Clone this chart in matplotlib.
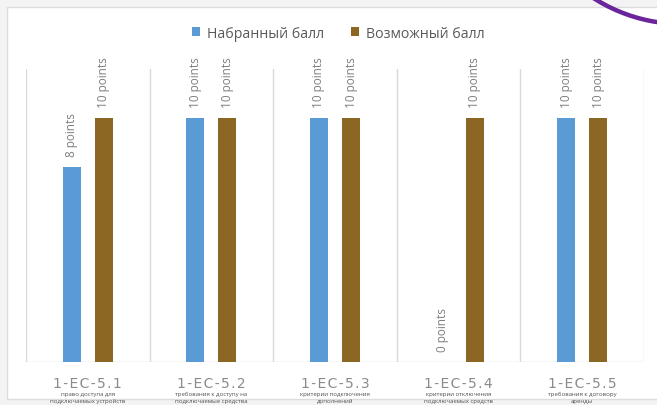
import matplotlib
matplotlib.use("Agg")
import matplotlib.pyplot as plt
import numpy as np
from matplotlib.patches import Rectangle, Circle

plt.rcParams['font.family'] = ['Open Sans', 'DejaVu Sans']

categories = ["1-EC-5.1", "1-EC-5.2", "1-EC-5.3", "1-EC-5.4", "1-EC-5.5"]
subtitles = [
    ("право доступа для", "подключаемых устройств"),
    ("требования к доступу на", "подключаемые средства"),
    ("критерии подключения", "дополнений"),
    ("критерии отключения", "подключаемых средств"),
    ("требования к договору", "аренды"),
]
scored = [8, 10, 10, 0, 10]
possible = [10, 10, 10, 10, 10]
series_names = ["Набранный балл", "Возможный балл"]

W, H = 657, 406
fig = plt.figure(figsize=(W / 100, H / 100), dpi=100)
fig.patch.set_facecolor("#f3f3f3")

# pixel-space backdrop: white panel and the purple corner arc
bg = fig.add_axes([0, 0, 1, 1], zorder=0)
bg.set_xlim(0, W)
bg.set_ylim(H, 0)
bg.axis("off")
bg.add_patch(Rectangle((7, 8), W, 392, facecolor="white", edgecolor="#dcdcdc", lw=1))
bg.add_patch(Circle((682, -139), 164, facecolor="none", edgecolor="#6a259a", lw=3.2))

ax = fig.add_axes([26 / W, 1 - 363 / H, (644 - 26) / W, (363 - 70) / H], zorder=1)
ax.patch.set_alpha(0)

blue = "#5b9bd5"
brown = "#8c6723"
x = np.arange(len(categories))
off = 0.13
bw = 0.146
b1 = ax.bar(x - off, scored, bw, color=blue, label=series_names[0])
b2 = ax.bar(x + off, possible, bw, color=brown, label=series_names[1])

for bars, vals in ((b1, scored), (b2, possible)):
    for rect, v in zip(bars, vals):
        ax.annotate(f"{v} points", (rect.get_x() + rect.get_width() / 2, v),
                    xytext=(0, 8), textcoords="offset points", rotation=90,
                    ha="center", va="bottom", fontsize=8.5, color="#7f7f7f")

ax.set_xlim(-0.5, len(categories) - 0.5)
ax.set_ylim(0, 12)
for b in np.arange(-0.5, len(categories), 1.0):
    ax.axvline(b, color="#d9d9d9", lw=1, zorder=0)
ax.axhline(0, color="#d9d9d9", lw=1, zorder=0)
for s in ax.spines.values():
    s.set_visible(False)
ax.set_yticks([])
ax.set_xticks(x)
spaced = ["\u200a".join(c) for c in categories]
ax.set_xticklabels(spaced, fontsize=10, color="#8a8a8a", family="DejaVu Sans")
ax.tick_params(axis="x", length=0, pad=10)

for xi, (l1, l2) in zip(x, subtitles):
    ax.annotate(l1, (xi, 0), xytext=(0, -22.5), textcoords="offset points",
                ha="center", va="center", fontsize=4.3, color="#505050")
    ax.annotate(l2, (xi, 0), xytext=(0, -28), textcoords="offset points",
                ha="center", va="center", fontsize=4.3, color="#505050")

leg = fig.legend(loc="center", bbox_to_anchor=(338 / W, 1 - 34 / H), ncol=2,
                 frameon=False, fontsize=10.2, handlelength=0.6, handleheight=0.6,
                 handletextpad=0.45, columnspacing=1.9, labelcolor="#595959")

fig.savefig("out.png", dpi=100, facecolor=fig.get_facecolor())
